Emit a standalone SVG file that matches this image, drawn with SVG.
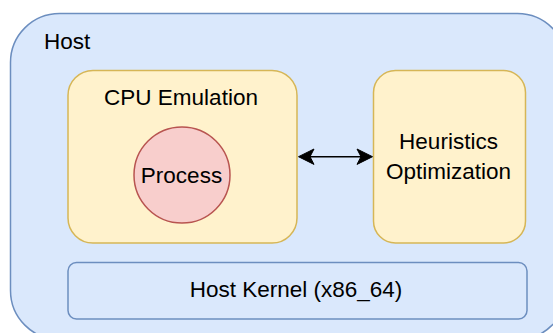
<svg xmlns="http://www.w3.org/2000/svg" width="553" height="333" viewBox="0 0 553 333">
<style>
.blue{fill:#dae8fc;stroke:#6c8ebf;stroke-width:1.5}
.yellow{fill:#fff2cc;stroke:#d6b656;stroke-width:1.5}
.red{fill:#f8cecc;stroke:#b85450;stroke-width:1.5}
text{font-family:"Liberation Sans",Arial,sans-serif;font-size:22.5px;fill:#000}
.c{text-anchor:middle}
</style>
<rect width="553" height="333" fill="#ffffff"/>
<g id="host">
<rect class="blue" x="10.5" y="13.5" width="556" height="326" rx="49" ry="49"/>
<text x="44" y="48.5">Host</text>
</g>
<g id="cpu-emulation">
<rect class="yellow" x="68" y="70.5" width="229" height="172.5" rx="25" ry="25"/>
<text class="c" x="181" y="105">CPU Emulation</text>
</g>
<g id="process">
<circle class="red" cx="182" cy="175" r="48"/>
<text class="c" x="181.5" y="183.3">Process</text>
</g>
<g id="heuristics">
<rect class="yellow" x="373.5" y="70.5" width="152" height="172.5" rx="22" ry="22"/>
<text class="c" x="448.5" y="149.3">Heuristics</text>
<text class="c" x="448.5" y="179">Optimization</text>
</g>
<g id="host-kernel">
<rect class="blue" x="68" y="262.5" width="459" height="56.5" rx="8.5" ry="8.5"/>
<text class="c" x="296" y="297.3">Host Kernel (x86_64)</text>
</g>
<g id="connectors">
<line x1="308" y1="156.7" x2="363" y2="156.7" stroke="#000" stroke-width="1.5"/>
<path d="M298.5,156.7 L314,149 L310,156.7 L314,164.4 Z" fill="#000" stroke="#000" stroke-width="1"/>
<path d="M372.5,156.7 L357,149 L361,156.7 L357,164.4 Z" fill="#000" stroke="#000" stroke-width="1"/>
</g>
</svg>
